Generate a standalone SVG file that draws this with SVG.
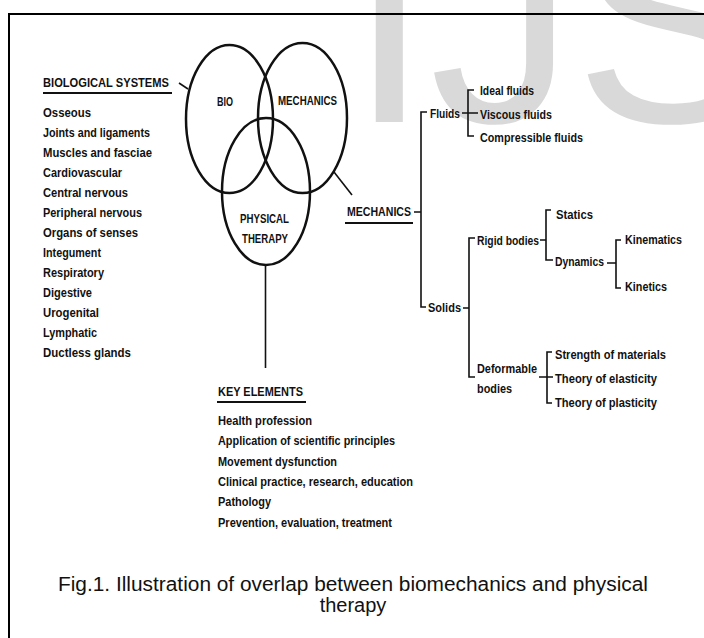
<svg xmlns="http://www.w3.org/2000/svg" width="704" height="638" viewBox="0 0 704 638">
<style>
.wm{font-family:"Liberation Sans",Arial,sans-serif;font-size:290px;fill:#d9d9d9}
.t{font-family:"Liberation Sans Narrow","Liberation Sans",Arial,sans-serif;font-weight:bold;font-size:13.5px;fill:#111}
.h{font-family:"Liberation Sans Narrow","Liberation Sans",Arial,sans-serif;font-weight:bold;font-size:13px;fill:#111}
.v{font-family:"Liberation Sans Narrow","Liberation Sans",Arial,sans-serif;font-weight:bold;font-size:12px;fill:#111}
.cap{font-family:"Liberation Sans",Arial,sans-serif;font-size:20px;fill:#111}
.c{fill:none;stroke:#111;stroke-width:2.5}
.l{fill:none;stroke:#111;stroke-width:1.6}
.u{fill:none;stroke:#111;stroke-width:1.8}
</style>
<rect width="704" height="638" fill="#fff"/>
<text class="wm" x="349" y="122">IJS</text>
<rect x="9" y="14" width="720" height="640" fill="none" stroke="#000" stroke-width="2"/>

<g id="venn">
  <ellipse class="c" cx="229.5" cy="119" rx="43.5" ry="74"/>
  <ellipse class="c" cx="302.5" cy="118" rx="44.5" ry="75"/>
  <ellipse class="c" cx="266" cy="191.5" rx="44" ry="73.5"/>
  <text class="v" x="217" y="106" textLength="16" lengthAdjust="spacingAndGlyphs">BIO</text>
  <text class="v" x="278" y="105" textLength="59" lengthAdjust="spacingAndGlyphs">MECHANICS</text>
  <text class="v" x="240" y="223" textLength="49" lengthAdjust="spacingAndGlyphs">PHYSICAL</text>
  <text class="v" x="242" y="243" textLength="46" lengthAdjust="spacingAndGlyphs">THERAPY</text>
</g>

<g id="biological-systems">
  <text class="h" x="43" y="87" textLength="126" lengthAdjust="spacingAndGlyphs">BIOLOGICAL SYSTEMS</text>
  <line class="u" x1="43" y1="93" x2="172" y2="93"/>
  <text class="t" x="43" y="117" textLength="48" lengthAdjust="spacingAndGlyphs">Osseous</text>
  <text class="t" x="43" y="137" textLength="107" lengthAdjust="spacingAndGlyphs">Joints and ligaments</text>
  <text class="t" x="43" y="157" textLength="109" lengthAdjust="spacingAndGlyphs">Muscles and fasciae</text>
  <text class="t" x="43" y="177" textLength="79" lengthAdjust="spacingAndGlyphs">Cardiovascular</text>
  <text class="t" x="43" y="197" textLength="85" lengthAdjust="spacingAndGlyphs">Central nervous</text>
  <text class="t" x="43" y="217" textLength="99" lengthAdjust="spacingAndGlyphs">Peripheral nervous</text>
  <text class="t" x="43" y="237" textLength="95" lengthAdjust="spacingAndGlyphs">Organs of senses</text>
  <text class="t" x="43" y="257" textLength="58" lengthAdjust="spacingAndGlyphs">Integument</text>
  <text class="t" x="43" y="277" textLength="61" lengthAdjust="spacingAndGlyphs">Respiratory</text>
  <text class="t" x="43" y="297" textLength="49" lengthAdjust="spacingAndGlyphs">Digestive</text>
  <text class="t" x="43" y="317" textLength="56" lengthAdjust="spacingAndGlyphs">Urogenital</text>
  <text class="t" x="43" y="337" textLength="54" lengthAdjust="spacingAndGlyphs">Lymphatic</text>
  <text class="t" x="43" y="357" textLength="88" lengthAdjust="spacingAndGlyphs">Ductless glands</text>
</g>

<g id="mechanics">
  <text class="h" x="347" y="216" textLength="64" lengthAdjust="spacingAndGlyphs">MECHANICS</text>
  <line class="u" x1="345" y1="223" x2="413" y2="223"/>
</g>
<g id="fluids">
  <text class="t" x="430" y="118" textLength="30" lengthAdjust="spacingAndGlyphs">Fluids</text>
  <text class="t" x="480" y="95" textLength="54" lengthAdjust="spacingAndGlyphs">Ideal fluids</text>
  <text class="t" x="480" y="119" textLength="72" lengthAdjust="spacingAndGlyphs">Viscous fluids</text>
  <text class="t" x="480" y="142" textLength="103" lengthAdjust="spacingAndGlyphs">Compressible fluids</text>
</g>
<g id="solids">
  <text class="t" x="428" y="312" textLength="33" lengthAdjust="spacingAndGlyphs">Solids</text>
</g>
<g id="rigid-bodies">
  <text class="t" x="477" y="245" textLength="62" lengthAdjust="spacingAndGlyphs">Rigid bodies</text>
  <text class="t" x="556" y="219" textLength="37" lengthAdjust="spacingAndGlyphs">Statics</text>
  <text class="t" x="555" y="266" textLength="49" lengthAdjust="spacingAndGlyphs">Dynamics</text>
  <text class="t" x="625" y="244" textLength="57" lengthAdjust="spacingAndGlyphs">Kinematics</text>
  <text class="t" x="625" y="291" textLength="42" lengthAdjust="spacingAndGlyphs">Kinetics</text>
</g>
<g id="deformable-bodies">
  <text class="t" x="477" y="373" textLength="60" lengthAdjust="spacingAndGlyphs">Deformable</text>
  <text class="t" x="477" y="393" textLength="35" lengthAdjust="spacingAndGlyphs">bodies</text>
  <text class="t" x="555" y="359" textLength="111" lengthAdjust="spacingAndGlyphs">Strength of materials</text>
  <text class="t" x="555" y="383" textLength="102" lengthAdjust="spacingAndGlyphs">Theory of elasticity</text>
  <text class="t" x="555" y="407" textLength="102" lengthAdjust="spacingAndGlyphs">Theory of plasticity</text>
</g>

<g id="key-elements">
  <text class="h" x="218" y="396" textLength="85" lengthAdjust="spacingAndGlyphs">KEY ELEMENTS</text>
  <line class="u" x1="217" y1="402" x2="306" y2="402"/>
  <text class="t" x="218" y="425" textLength="94" lengthAdjust="spacingAndGlyphs">Health profession</text>
  <text class="t" x="218" y="445" textLength="177" lengthAdjust="spacingAndGlyphs">Application of scientific principles</text>
  <text class="t" x="218" y="466" textLength="119" lengthAdjust="spacingAndGlyphs">Movement dysfunction</text>
  <text class="t" x="218" y="486" textLength="195" lengthAdjust="spacingAndGlyphs">Clinical practice, research, education</text>
  <text class="t" x="218" y="506" textLength="53" lengthAdjust="spacingAndGlyphs">Pathology</text>
  <text class="t" x="218" y="527" textLength="174" lengthAdjust="spacingAndGlyphs">Prevention, evaluation, treatment</text>
</g>

<g id="connectors">
  <line class="l" x1="179" y1="83" x2="188" y2="89"/>
  <line class="l" x1="334" y1="172" x2="352" y2="195"/>
  <line class="l" x1="265.5" y1="265" x2="265.5" y2="368"/>
  <path class="l" d="M414 212H421M427 112H421V307H426"/>
  <path class="l" d="M474 90H468V136H474M462 113H478"/>
  <path class="l" d="M463 308H469M475 238H469V377H475"/>
  <path class="l" d="M540 240H546M551 210H546V260H553"/>
  <path class="l" d="M607 263H616M621 240H616V288H621"/>
  <path class="l" d="M539 377H553M552 352H547V403H552"/>
</g>

<g id="caption">
  <text class="cap" x="353" y="591" text-anchor="middle" textLength="590" lengthAdjust="spacingAndGlyphs">Fig.1. Illustration of overlap between biomechanics and physical</text>
  <text class="cap" x="353" y="612" text-anchor="middle">therapy</text>
</g>
</svg>
